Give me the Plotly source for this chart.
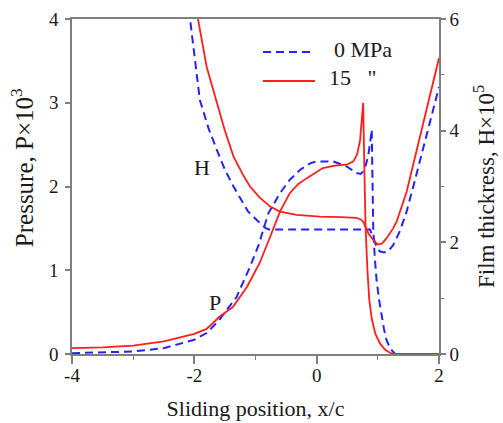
import plotly.graph_objects as go

# ---- data ----
x_p15 = [-4, -3.5, -3, -2.5, -2, -1.8, -1.58, -1.37, -1.14, -0.93, -0.76, -0.6, -0.44, -0.3, -0.16, 0.0, 0.1, 0.3,
         0.49, 0.6, 0.66, 0.71, 0.74, 0.76, 0.78, 0.8, 0.83, 0.86, 0.9, 0.96, 1.04, 1.12, 1.2, 1.26, 1.5, 2.0]
p15 = [0.07, 0.08, 0.1, 0.15, 0.24, 0.3, 0.45, 0.56, 0.80, 1.09, 1.40, 1.70, 1.92, 2.03, 2.1, 2.18, 2.22, 2.25,
       2.26, 2.3, 2.38, 2.55, 2.78, 3.0, 2.2, 1.5, 1.0, 0.65, 0.42, 0.24, 0.12, 0.05, 0.015, 0.0, 0.0, 0.0]

x_p0 = [-4, -3.5, -3, -2.5, -2, -1.8, -1.6, -1.31, -1.09, -0.95, -0.79, -0.6, -0.44, -0.27, -0.1, 0.0, 0.27, 0.49,
        0.65, 0.72, 0.76, 0.8, 0.84, 0.87, 0.9, 0.91, 0.925, 0.95, 0.98, 1.02, 1.06, 1.1, 1.14, 1.2, 1.28, 1.5, 2.0]
p0 = [0.01, 0.02, 0.03, 0.07, 0.17, 0.25, 0.4, 0.68, 1.04, 1.30, 1.68, 1.92, 2.08, 2.2, 2.28, 2.3, 2.3, 2.24,
      2.16, 2.15, 2.18, 2.25, 2.36, 2.5, 2.68, 2.2, 1.5, 1.15, 0.88, 0.65, 0.45, 0.3, 0.17, 0.07, 0.0, 0.0, 0.0]

x_h15 = [-2.0, -1.94, -1.8, -1.63, -1.5, -1.36, -1.2, -1.09, -0.93, -0.76, -0.6, -0.33, 0.05, 0.4, 0.65, 0.72,
         0.76, 0.8, 0.85, 0.93, 1.0, 1.07, 1.14, 1.25, 1.31, 1.47, 1.69, 1.91, 2.0]
h15 = [6.4, 6.0, 5.15, 4.49, 4.0, 3.54, 3.2, 3.0, 2.8, 2.64, 2.55, 2.49, 2.46, 2.45, 2.44, 2.41,
       2.37, 2.27, 2.15, 2.04, 1.96, 1.98, 2.07, 2.25, 2.38, 2.9, 3.9, 4.85, 5.3]

x_h0 = [-2.12, -2.07, -1.91, -1.77, -1.63, -1.5, -1.36, -1.25, -1.12, -0.98, -0.84, -0.78, 0.0, 0.87, 0.92, 0.98,
        1.03, 1.1, 1.17, 1.25, 1.36, 1.47, 1.58, 1.8, 2.0]
h0 = [6.4, 6.0, 4.55, 4.05, 3.65, 3.3, 3.0, 2.8, 2.55, 2.4, 2.26, 2.23, 2.23, 2.23, 2.1, 1.92,
      1.84, 1.82, 1.84, 1.95, 2.2, 2.55, 3.0, 3.95, 4.78]

x_tickvals = [-4, -2, 0, 2]
x_ticktext = ["-4", "-2", "0", "2"]
legend_labels = ["0 MPa", "15\u00a0\u00a0\u00a0\""]
x_title = "Sliding position, x/c"
y_title = "Pressure, P\u00d710<sup>3</sup>"
y2_title = "Film thickress, H\u00d710<sup>5</sup>"

BLUE = "rgb(35,35,255)"
RED = "rgb(255,30,30)"
AX = "#7f7f7f"
FONT = "Liberation Serif"
TXT = "#1a1a1a"

fig = go.Figure()
fig.add_trace(go.Scatter(x=x_p0, y=p0, mode="lines", line=dict(color=BLUE, width=2, dash="8px,5px"),
                         showlegend=False))
fig.add_trace(go.Scatter(x=x_p15, y=p15, mode="lines", line=dict(color=RED, width=1.8), showlegend=False))
fig.add_trace(go.Scatter(x=x_h0, y=h0, mode="lines", line=dict(color=BLUE, width=2, dash="8px,5px"),
                         yaxis="y2", showlegend=False))
fig.add_trace(go.Scatter(x=x_h15, y=h15, mode="lines", line=dict(color=RED, width=1.8),
                         yaxis="y2", showlegend=False))

# legend drawn manually
fig.add_shape(type="line", xref="paper", yref="paper", x0=0.5204, x1=0.6621, y0=0.9015, y1=0.9015,
              line=dict(color=BLUE, width=2, dash="8px,5px"))
fig.add_shape(type="line", xref="paper", yref="paper", x0=0.5204, x1=0.6621, y0=0.8149, y1=0.8149,
              line=dict(color=RED, width=1.8))
fig.add_annotation(xref="paper", yref="paper", x=0.7084, y=0.9075, text=legend_labels[0], showarrow=False,
                   xanchor="left", yanchor="middle", font=dict(family=FONT, size=22, color=TXT))
fig.add_annotation(xref="paper", yref="paper", x=0.6948, y=0.824, text=legend_labels[1], showarrow=False,
                   xanchor="left", yanchor="middle", font=dict(family=FONT, size=22, color=TXT))

fig.add_annotation(x=-1.875, y=2.23, text="H", showarrow=False, font=dict(family=FONT, size=22, color=TXT))
fig.add_annotation(x=-1.66, y=0.62, text="P", showarrow=False, font=dict(family=FONT, size=22, color=TXT))

# y-axis titles as rotated annotations
fig.add_annotation(xref="paper", yref="paper", x=-0.136, y=0.555, text=y_title, showarrow=False,
                   textangle=-90, xanchor="center", yanchor="middle",
                   font=dict(family=FONT, size=25, color=TXT))
fig.add_annotation(xref="paper", yref="paper", x=1.124, y=0.5, text=y2_title, showarrow=False,
                   textangle=-90, xanchor="center", yanchor="middle",
                   font=dict(family=FONT, size=23, color=TXT))

tickfont = dict(family=FONT, size=19, color=TXT)

fig.update_layout(
    width=503, height=423,
    margin=dict(l=72, r=64, t=19, b=69),
    paper_bgcolor="white", plot_bgcolor="white",
    xaxis=dict(range=[-4, 2], tickvals=x_tickvals, ticktext=x_ticktext, showgrid=False, zeroline=False,
               automargin=False,
               showline=True, linecolor=AX, linewidth=1.5, mirror=True,
               ticks="outside", ticklen=8, tickwidth=1.5, tickcolor=AX, ticklabelstandoff=-5,
               minor=dict(dtick=1, tick0=-4, ticks="outside", ticklen=4, tickcolor=AX, tickwidth=1.2),
               tickfont=tickfont,
               title=dict(text=x_title, font=dict(family=FONT, size=22, color=TXT), standoff=16)),
    yaxis=dict(range=[0, 4], dtick=1, showgrid=False, zeroline=False, automargin=False,
               showline=True, linecolor=AX, linewidth=1.5,
               ticks="outside", ticklen=5, tickwidth=1.5, tickcolor=AX, ticklabelstandoff=3,
               tickfont=tickfont),
    yaxis2=dict(range=[0, 6], dtick=2, overlaying="y", side="right", showgrid=False, zeroline=False,
                automargin=False,
                showline=True, linecolor=AX, linewidth=1.5,
                ticks="outside", ticklen=5, tickwidth=1.5, tickcolor=AX,
                minor=dict(dtick=1, ticks="outside", ticklen=3, tickcolor=AX, tickwidth=1.2),
                tickfont=tickfont),
)

fig.write_html("out.html", config={"displayModeBar": False},
               post_script="document.body.style.margin='0px';")
